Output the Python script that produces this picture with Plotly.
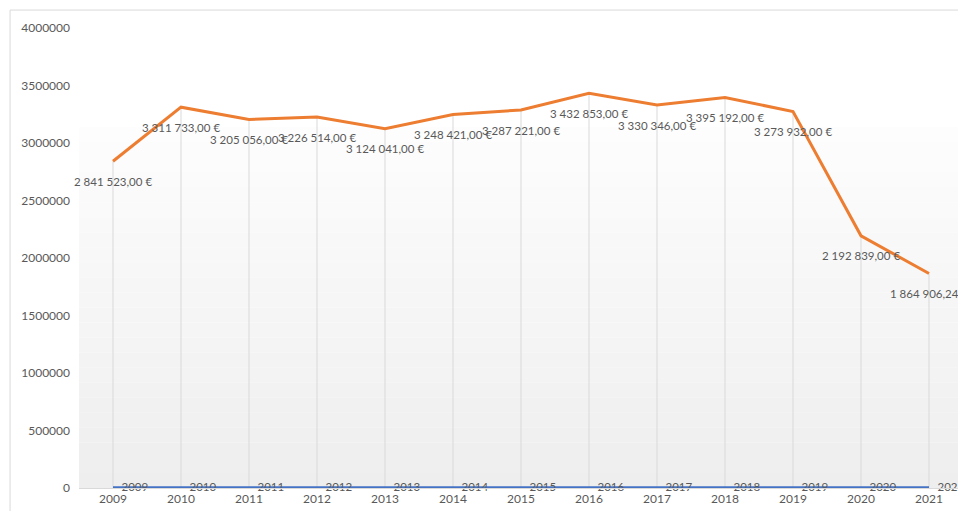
import plotly.graph_objects as go

years = [2009, 2010, 2011, 2012, 2013, 2014, 2015, 2016, 2017, 2018, 2019, 2020, 2021]
categories = [str(y) for y in years]
amounts = [2841523, 3311733, 3205056, 3226514, 3124041, 3248421, 3287221,
           3432853, 3330346, 3395192, 3273932, 2192839, 1864906.24]
y_ticks = [0, 500000, 1000000, 1500000, 2000000, 2500000, 3000000, 3500000, 4000000]

FONT = "Lato"
GRAY_TXT = "#595959"

fig = go.Figure()

# drop lines from each point to the axis
dx, dy = [], []
for c, v in zip(categories, amounts):
    dx += [c, c, None]
    dy += [v, 0, None]
fig.add_trace(go.Scatter(x=dx, y=dy, mode="lines",
                         line=dict(color="#d9d9d9", width=1),
                         hoverinfo="skip", showlegend=False))

fig.add_trace(go.Scatter(
    x=categories, y=amounts, mode="lines+markers+text",
    line=dict(color="#ED7D31", width=3),
    marker=dict(size=24, color="rgba(0,0,0,0)"),
    texttemplate="%{y:,.2f} €", textposition="bottom center",
    textfont=dict(family=FONT, size=11.5, color=GRAY_TXT),
    cliponaxis=False, showlegend=False))

fig.add_trace(go.Scatter(
    x=categories, y=years, mode="lines+markers+text",
    line=dict(color="#4472C4", width=3),
    marker=dict(size=12, color="rgba(0,0,0,0)"),
    text=[str(y) for y in years], texttemplate="%{text}",
    textposition="middle right",
    textfont=dict(family=FONT, size=11.5, color=GRAY_TXT),
    cliponaxis=False, showlegend=False))

# subtle vertical gradient background in plot area
shapes = []
n = 24
top = 0.785
for i in range(n):
    y0 = top * i / n
    y1 = top * (i + 1) / n
    t = i / (n - 1)
    g = int(round(0xEE + (0xFD - 0xEE) * t))
    shapes.append(dict(type="rect", xref="paper", yref="paper",
                       x0=0, x1=1, y0=y0, y1=y1, layer="below",
                       line=dict(width=0),
                       fillcolor=f"rgb({g},{g},{g})"))
# outer chart border
shapes.append(dict(type="rect", xref="paper", yref="paper",
                   x0=-0.078, x1=1.01, y0=-0.2, y1=1.039,
                   line=dict(color="#d9d9d9", width=1), layer="below"))

fig.update_layout(
    width=958, height=503,
    margin=dict(l=71, r=3, t=20, b=23),
    paper_bgcolor="white", plot_bgcolor="white",
    separators=", ",
    shapes=shapes,
    font=dict(family=FONT, size=12, color=GRAY_TXT),
    xaxis=dict(type="category", categoryorder="array", categoryarray=categories,
               range=[-0.5, 12.5], showgrid=False, zeroline=False,
               showline=True, linecolor="#d9d9d9", linewidth=1,
               tickfont=dict(family=FONT, size=12, color=GRAY_TXT)),
    yaxis=dict(range=[0, 4000000], tickvals=y_ticks, tickformat="d",
               showgrid=False, zeroline=False, showline=False,
               ticklabelstandoff=8,
               tickfont=dict(family=FONT, size=12, color=GRAY_TXT)),
)

fig.write_html("out.html")
